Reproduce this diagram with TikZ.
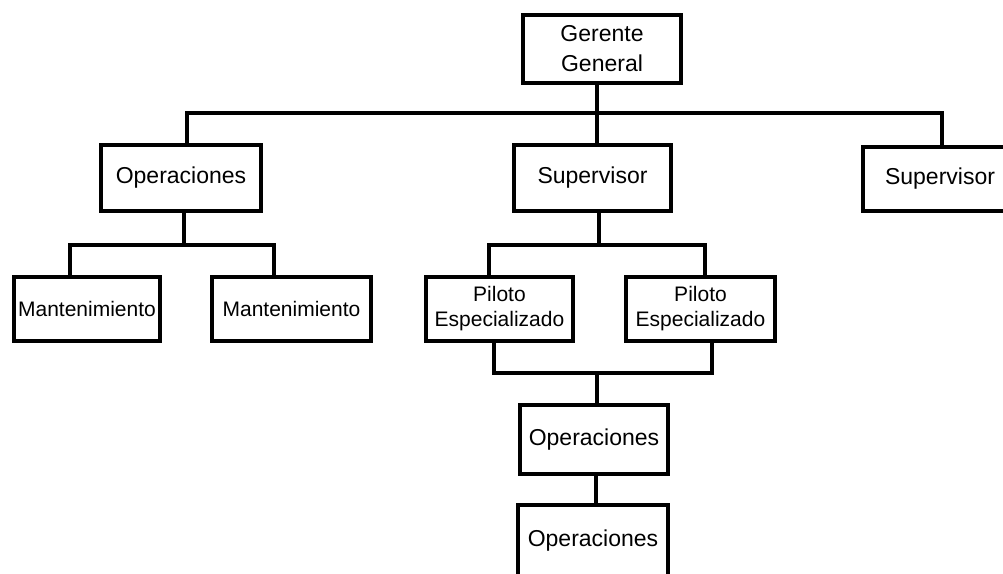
\documentclass[tikz,border=0pt]{standalone}
\usepackage{fontspec}
\setmainfont{Liberation Sans}
\begin{document}
\begin{tikzpicture}[x=1pt,y=-1pt,
  box/.style={draw=black,line width=3.6pt,fill=white,inner sep=0pt,align=center,
    font=\fontsize{23}{28}\selectfont},
  smallbox/.style={box,font=\fontsize{21}{25}\selectfont},
  conn/.style={draw=black,line width=3.4pt,line join=miter,line cap=rect}]
\clip (0,0) rectangle (1003,573);
\fill[white] (0,0) rectangle (1003,573);
% nodes
\node[box,minimum width=158pt,minimum height=68pt] (G) at (602,49) {Gerente\\[2pt]General};
\node[box,minimum width=160pt,minimum height=66pt] (OpL) at (181,178) {Operaciones};
\node[box,minimum width=157pt,minimum height=66pt] (SupM) at (592.5,178) {Supervisor};
\node[box,minimum width=154pt,minimum height=64pt] (SupR) at (940,179) {Supervisor};
\node[smallbox,minimum width=146pt,minimum height=64pt] (M1) at (87,309) {Mantenimiento};
\node[smallbox,minimum width=159pt,minimum height=64pt] (M2) at (291.5,309) {Mantenimiento};
\node[smallbox,minimum width=147pt,minimum height=64pt] (P1) at (499.5,309) {Piloto\\Especializado};
\node[smallbox,minimum width=149pt,minimum height=64pt] (P2) at (700.5,309) {Piloto\\Especializado};
\node[box,minimum width=148pt,minimum height=69pt] (O1) at (594,439.5) {Operaciones};
\node[box,minimum width=150pt,minimum height=72pt] (O2) at (593,541) {Operaciones};
% connector coordinates
\coordinate (tl) at (187,113);
\coordinate (tr) at (942,113);
\coordinate (tg) at (597,113);
\coordinate (ol) at (70,245);
\coordinate (om) at (184,245);
\coordinate (or) at (274,245);
\coordinate (sl) at (489,245);
\coordinate (sm) at (599,245);
\coordinate (sr) at (705,245);
\coordinate (pl) at (494,373);
\coordinate (pm) at (597,373);
\coordinate (pr) at (712,373);
\coordinate (oo) at (596,490);
% connectors
\draw[conn] (tl |- OpL.north) -- (tl) -- (tr) -- (tr |- SupR.north);
\draw[conn] (tg |- G.south) -- (tg |- SupM.north);
\draw[conn] (om |- OpL.south) -- (om);
\draw[conn] (ol |- M1.north) -- (ol) -- (or) -- (or |- M2.north);
\draw[conn] (sm |- SupM.south) -- (sm);
\draw[conn] (sl |- P1.north) -- (sl) -- (sr) -- (sr |- P2.north);
\draw[conn] (pl |- P1.south) -- (pl) -- (pr) -- (pr |- P2.south);
\draw[conn] (pm) -- (pm |- O1.north);
\draw[conn] (oo |- O1.south) -- (oo |- O2.north);
\end{tikzpicture}
\end{document}
